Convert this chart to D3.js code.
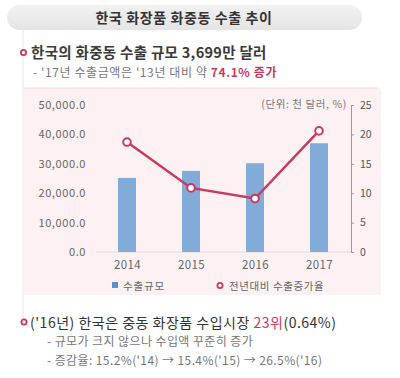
<!DOCTYPE html>
<html>
<head>
<meta charset="utf-8">
<script src="https://cdn.jsdelivr.net/npm/d3@7"></script>
<style>
  body { margin: 0; background: #fff; }
  svg { display: block; font-family: 'Noto Sans CJK KR', 'Noto Sans', sans-serif; }
</style>
</head>
<body>
<main></main>
<script>
const years = ['2014', '2015', '2016', '2017'];
const exportValues = [25200, 27600, 30200, 36990];
const growthRates = [18.7, 10.9, 9.1, 20.6];
const leftTicks = [0, 10000, 20000, 30000, 40000, 50000];
const rightTicks = [0, 5, 10, 15, 20, 25];

const width = 400;
const height = 378;
const pink = '#c93a5e';
const barBlue = '#82acd8';
const bgPink = '#fdf1f3';

const svg = d3.select('main')
  .append('svg')
  .attr('width', width)
  .attr('height', height);

// Title pill
const grad = svg.append('defs').append('linearGradient')
  .attr('id', 'pill').attr('x1', 0).attr('y1', 0).attr('x2', 0).attr('y2', 1);
grad.append('stop').attr('offset', '0%').attr('stop-color', '#f2f2f2');
grad.append('stop').attr('offset', '100%').attr('stop-color', '#e4e4e4');

svg.append('rect')
  .attr('x', 7).attr('y', 5)
  .attr('width', 355).attr('height', 25)
  .attr('rx', 12.5)
  .attr('fill', 'url(#pill)');

svg.append('text')
  .text('한국 화장품 화중동 수출 추이')
  .attr('x', 184).attr('y', 23)
  .attr('text-anchor', 'middle')
  .style('font-size', '14px')
  .style('letter-spacing', '0.6px')
  .style('font-weight', 'bold')
  .attr('fill', '#333');

// left guide line
svg.append('line')
  .attr('x1', 23).attr('x2', 23)
  .attr('y1', 30).attr('y2', 318)
  .attr('stroke', '#e6e6e6');

// Bullet 1
svg.append('circle')
  .attr('cx', 23.5).attr('cy', 52.5).attr('r', 2.6)
  .attr('fill', '#fff').attr('stroke', pink).attr('stroke-width', 1.8);

svg.append('text')
  .text('한국의 화중동 수출 규모 3,699만 달러')
  .attr('x', 31).attr('y', 58)
  .style('font-size', '14.5px')
  .style('letter-spacing', '0.3px')
  .style('font-weight', 'bold')
  .attr('fill', '#3a3a3a');

const sub1 = svg.append('text')
  .attr('x', 33).attr('y', 76.5)
  .style('font-size', '12px')
  .style('letter-spacing', '0.6px')
  .attr('fill', '#777');
sub1.append('tspan').text("- '17년 수출금액은 '13년 대비 약 ");
sub1.append('tspan').text('74.1% 증가')
  .attr('fill', pink).style('font-weight', 'bold');

// Chart background
svg.append('rect')
  .attr('x', 23).attr('y', 88)
  .attr('width', 358).attr('height', 207)
  .attr('fill', bgPink);
svg.append('line')
  .attr('x1', 23).attr('x2', 378)
  .attr('y1', 88).attr('y2', 88)
  .attr('stroke', '#f6d3db');

// Scales
const xScale = d3.scalePoint().domain(years).range([127, 319]);
const yLeft = d3.scaleLinear().domain([0, 50000]).range([252, 105]);
const yRight = d3.scaleLinear().domain([0, 25]).range([252, 105]);

// baseline
svg.append('line')
  .attr('x1', 96).attr('x2', 351)
  .attr('y1', 252).attr('y2', 252)
  .attr('stroke', '#dcdcdc');

// Left axis
const leftAxis = svg.append('g')
  .attr('transform', 'translate(86, 0)')
  .call(d3.axisLeft(yLeft).tickValues(leftTicks).tickSize(0).tickPadding(0).tickFormat(d3.format(',.1f')));
leftAxis.select('.domain').remove();
leftAxis.selectAll('text')
  .style('font-size', '11px')
  .style('letter-spacing', '0.6px')
  .style('font-family', "'Noto Sans CJK KR', sans-serif")
  .attr('fill', '#666');

// Right axis
const rightAxis = svg.append('g')
  .attr('transform', 'translate(351, 0)')
  .call(d3.axisRight(yRight).tickValues(rightTicks).tickSize(3).tickSizeOuter(0).tickPadding(6));
rightAxis.select('.domain').attr('stroke', '#999');
rightAxis.selectAll('.tick line').attr('stroke', '#999');
rightAxis.selectAll('text')
  .style('font-size', '10.5px')
  .style('font-family', "'Noto Sans CJK KR', sans-serif")
  .attr('fill', '#555');

// x axis
const xAxis = svg.append('g')
  .attr('transform', 'translate(0, 252)')
  .call(d3.axisBottom(xScale).tickSize(0).tickPadding(9));
xAxis.select('.domain').remove();
xAxis.selectAll('text')
  .style('font-size', '11.5px')
  .style('letter-spacing', '0.4px')
  .style('font-family', "'Noto Sans CJK KR', sans-serif")
  .attr('fill', '#666');

// Unit
svg.append('text')
  .text('(단위: 천 달러, %)')
  .attr('x', 347).attr('y', 108)
  .attr('text-anchor', 'end')
  .style('font-size', '10.5px')
  .style('letter-spacing', '0.6px')
  .attr('fill', '#777');

// Bars
const barWidth = 18;
svg.selectAll('.bar')
  .data(years)
  .enter()
  .append('rect')
  .attr('class', 'bar')
  .attr('x', d => xScale(d) - barWidth / 2)
  .attr('y', (d, i) => yLeft(exportValues[i]))
  .attr('width', barWidth)
  .attr('height', (d, i) => yLeft(0) - yLeft(exportValues[i]))
  .attr('fill', barBlue);

// Line
const line = d3.line()
  .x(d => xScale(d[0]))
  .y(d => yRight(d[1]));
const linePoints = years.map((y, i) => [y, growthRates[i]]);

svg.append('path')
  .datum(linePoints)
  .attr('d', line)
  .attr('fill', 'none')
  .attr('stroke', pink)
  .attr('stroke-width', 2.5);

svg.selectAll('.dot')
  .data(linePoints)
  .enter()
  .append('circle')
  .attr('class', 'dot')
  .attr('cx', d => xScale(d[0]))
  .attr('cy', d => yRight(d[1]))
  .attr('r', 3.8)
  .attr('fill', '#fff')
  .attr('stroke', pink)
  .attr('stroke-width', 2);

// Legend
svg.append('rect')
  .attr('x', 112).attr('y', 282)
  .attr('width', 6).attr('height', 6)
  .attr('fill', '#5b8fd0');
svg.append('text')
  .text('수출규모')
  .attr('x', 123).attr('y', 289.5)
  .style('font-size', '10.5px')
  .style('letter-spacing', '0.8px')
  .attr('fill', '#666');
svg.append('circle')
  .attr('cx', 220).attr('cy', 285.5).attr('r', 2.6)
  .attr('fill', '#fff').attr('stroke', pink).attr('stroke-width', 1.8);
svg.append('text')
  .text('전년대비 수출증가율')
  .attr('x', 229).attr('y', 289.5)
  .style('font-size', '10.5px')
  .style('letter-spacing', '0.6px')
  .attr('fill', '#666');

// Bullet 2
svg.append('circle')
  .attr('cx', 24).attr('cy', 322).attr('r', 2.6)
  .attr('fill', '#fff').attr('stroke', pink).attr('stroke-width', 1.8);

const b2 = svg.append('text')
  .attr('x', 30).attr('y', 328)
  .style('font-size', '14px')
  .style('letter-spacing', '0.5px')
  .attr('fill', '#333');
b2.append('tspan').text("('16년) 한국은 중동 화장품 수입시장 ");
b2.append('tspan').text('23위').attr('fill', pink);
b2.append('tspan').text('(0.64%)');

svg.append('text')
  .text('-  규모가 크지 않으나 수입액 꾸준히 증가')
  .attr('x', 47).attr('y', 345.5)
  .style('font-size', '12px')
  .style('letter-spacing', '0.4px')
  .attr('fill', '#777');

svg.append('text')
  .text("-  증감율: 15.2%('14) → 15.4%('15) → 26.5%('16)")
  .attr('x', 47).attr('y', 364.5)
  .style('font-size', '12px')
  .style('letter-spacing', '0.4px')
  .attr('fill', '#777');
</script>
</body>
</html>
